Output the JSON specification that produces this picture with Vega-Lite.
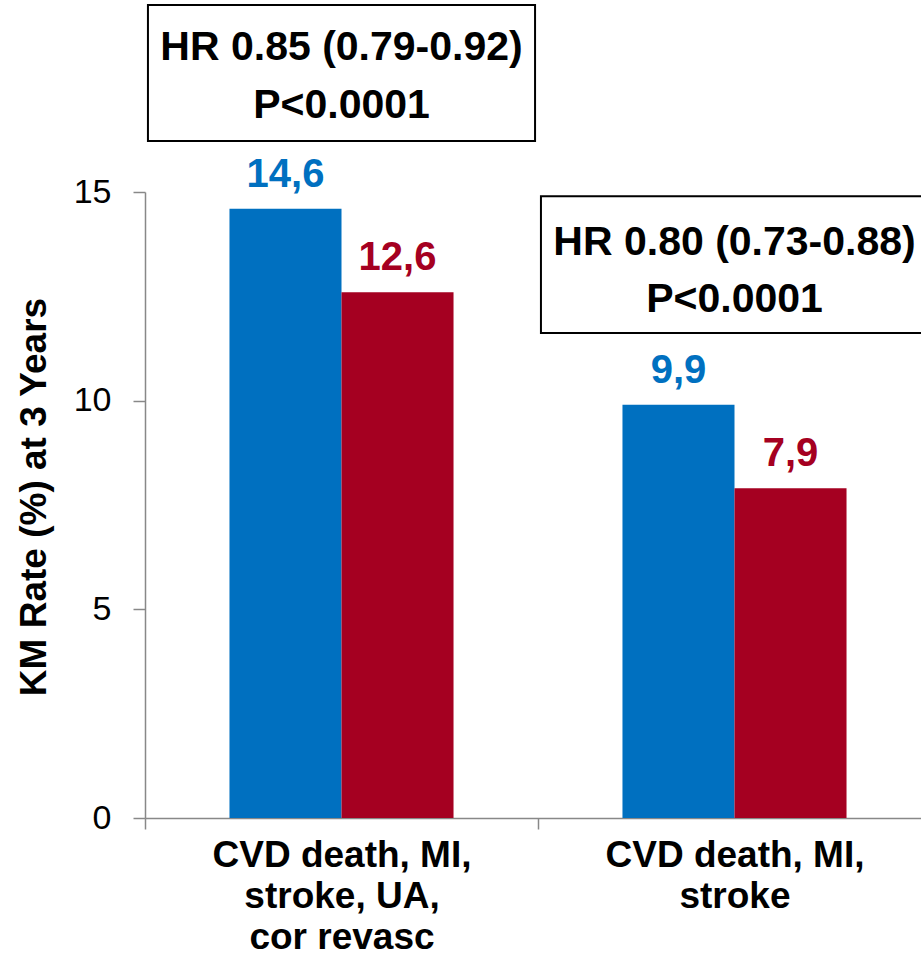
{
  "$schema": "https://vega.github.io/schema/vega-lite/v6.json",
  "width": 786,
  "height": 626,
  "autosize": {"type": "none"},
  "padding": {"left": 145, "top": 192, "right": 0, "bottom": 139},
  "background": "white",
  "config": {"view": {"stroke": null}, "font": "Liberation Sans"},
  "datasets": {
    "bars": [
      {"endpoint": "CVD death, MI, stroke, UA, cor revasc", "arm": "Placebo", "rate": 14.6, "label": "14,6"},
      {"endpoint": "CVD death, MI, stroke, UA, cor revasc", "arm": "Evolocumab", "rate": 12.6, "label": "12,6"},
      {"endpoint": "CVD death, MI, stroke", "arm": "Placebo", "rate": 9.9, "label": "9,9"},
      {"endpoint": "CVD death, MI, stroke", "arm": "Evolocumab", "rate": 7.9, "label": "7,9"}
    ],
    "boxes": [
      {"endpoint": "CVD death, MI, stroke, UA, cor revasc", "top": 19.48, "bottom": 16.22},
      {"endpoint": "CVD death, MI, stroke", "top": 14.9, "bottom": 11.62}
    ],
    "boxtext": [
      {"endpoint": "CVD death, MI, stroke, UA, cor revasc", "text": "HR 0.85 (0.79-0.92)", "at": 18.16},
      {"endpoint": "CVD death, MI, stroke, UA, cor revasc", "text": "P<0.0001", "at": 16.77},
      {"endpoint": "CVD death, MI, stroke", "text": "HR 0.80 (0.73-0.88)", "at": 13.49},
      {"endpoint": "CVD death, MI, stroke", "text": "P<0.0001", "at": 12.12}
    ]
  },
  "encoding": {
    "x": {
      "field": "endpoint",
      "type": "nominal",
      "sort": ["CVD death, MI, stroke, UA, cor revasc", "CVD death, MI, stroke"],
      "scale": {"paddingInner": 0, "paddingOuter": 0},
      "axis": {
        "title": null,
        "labelAngle": 0,
        "tickOffset": -196.5,
        "labelOffset": 196.5,
        "labelExpr": "datum.value == 'CVD death, MI, stroke' ? ['CVD death, MI,', 'stroke'] : ['CVD death, MI,', 'stroke, UA,', 'cor revasc']",
        "labelFont": "Liberation Sans",
        "labelFontWeight": "bold",
        "labelFontSize": 37,
        "labelLineHeight": 41,
        "labelColor": "black",
        "labelPadding": 8,
        "labelLimit": 400,
        "tickSize": 11,
        "tickColor": "#888888",
        "tickWidth": 1.5,
        "domainColor": "#888888",
        "domainWidth": 1.5
      }
    }
  },
  "layer": [
    {
      "data": {"name": "bars"},
      "mark": {"type": "bar"},
      "encoding": {
        "xOffset": {"field": "arm", "type": "nominal", "sort": ["Placebo", "Evolocumab"], "scale": {"paddingOuter": 0.754, "paddingInner": 0}},
        "y": {
          "field": "rate",
          "type": "quantitative",
          "scale": {"domain": [0, 15], "nice": false},
          "axis": {
            "values": [0, 5, 10, 15],
            "grid": false,
            "title": "KM Rate (%) at 3 Years",
            "titleFont": "Liberation Sans",
            "titleFontWeight": "bold",
            "titleFontSize": 37,
            "titleColor": "black",
            "titlePadding": 20,
            "titleY": 304.5,
            "labelFont": "Liberation Sans",
            "labelFontSize": 34,
            "labelColor": "black",
            "labelPadding": 22,
            "tickSize": 12,
            "tickColor": "#888888",
            "tickWidth": 1.5,
            "domainColor": "#888888",
            "domainWidth": 1.5
          }
        },
        "color": {"field": "arm", "type": "nominal", "scale": {"domain": ["Placebo", "Evolocumab"], "range": ["#0070C0", "#A50021"]}, "legend": null}
      }
    },
    {
      "data": {"name": "bars"},
      "mark": {"type": "text", "font": "Liberation Sans", "fontWeight": "bold", "fontSize": 40, "baseline": "alphabetic", "dy": -22},
      "encoding": {
        "xOffset": {"field": "arm", "type": "nominal", "sort": ["Placebo", "Evolocumab"]},
        "y": {"field": "rate", "type": "quantitative"},
        "text": {"field": "label"},
        "color": {"field": "arm", "type": "nominal", "legend": null}
      }
    },
    {
      "data": {"name": "boxes"},
      "mark": {"type": "rect", "fill": null, "stroke": "black", "strokeWidth": 2, "clip": false, "width": {"band": 0.985}},
      "encoding": {
        "y": {"field": "top", "type": "quantitative"},
        "y2": {"field": "bottom"}
      }
    },
    {
      "data": {"name": "boxtext"},
      "mark": {"type": "text", "font": "Liberation Sans", "fontWeight": "bold", "fontSize": 41, "baseline": "alphabetic", "color": "black", "clip": false},
      "encoding": {
        "y": {"field": "at", "type": "quantitative"},
        "text": {"field": "text"}
      }
    }
  ]
}
